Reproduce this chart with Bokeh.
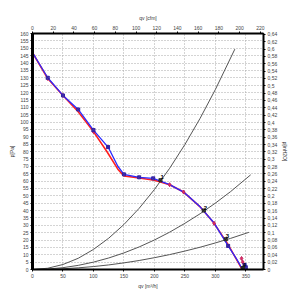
from bokeh.plotting import figure
from bokeh.models import (Range1d, LinearAxis, FixedTicker, CustomJSTickFormatter, Label)
from bokeh.embed import file_html
from bokeh.resources import INLINE

# ---- data (m3/h, Pa) ----
blue_q = [0, 25, 50, 75, 100, 124, 140, 150, 175, 198, 225, 248, 275, 298, 321, 335, 344]
blue_p = [147, 130, 118, 108.5, 94.5, 83, 70, 64.5, 62.5, 61.8, 57.5, 52.5, 42.5, 31.5, 16, 7, 0.5]
blue_mq = [25, 50, 75, 100, 124, 150, 175, 198, 321, 348, 350]
blue_mp = [130, 118, 108.5, 94.5, 83, 64.5, 62.5, 61.8, 16, 3, 1.5]

red_q = [0, 25, 50, 75, 100, 122, 140, 150, 175, 200, 225, 248, 275, 298, 320, 340, 343]
red_p = [147, 129.5, 118, 107, 93.5, 80, 68, 63.5, 62, 60.5, 57.5, 52.5, 42.5, 31.3, 17.5, 3, 0.5]
red_mq = [25, 50, 100, 225, 248, 298, 343, 345]
red_mp = [129.5, 118, 93.5, 57.5, 52.5, 31.3, 7.5, 5]

sys1_q = [0, 25, 50, 75, 100, 125, 150, 175, 200, 225, 250, 275, 300, 332]
sys1_p = [0, 0.85, 3.4, 7.6, 13.6, 21.2, 30.5, 41.5, 54.2, 68.6, 84.7, 102.5, 122, 149.4]
sys2_q = [0, 25, 50, 75, 100, 125, 150, 175, 200, 225, 250, 275, 300, 325, 358]
sys2_p = [0, 0.31, 1.25, 2.8, 5, 7.8, 11.25, 15.3, 20, 25.3, 31.3, 37.8, 45, 52.8, 64.2]
sys3_q = [0, 25, 50, 75, 100, 125, 150, 175, 200, 225, 250, 275, 300, 325, 355]
sys3_p = [0, 0.13, 0.5, 1.13, 2, 3.1, 4.5, 6.1, 8, 10.1, 12.5, 15.1, 18, 21.1, 25.2]

op_q = [210, 281, 317, 345]
op_p = [60.5, 40, 20.5, 1]
op_labels = ["1", "2", "3", "4"]

m3h_ticks = [0, 50, 100, 150, 200, 250, 300, 350]
cfm_ticks = [0, 20, 40, 60, 80, 100, 120, 140, 160, 180, 200, 220]
pa_ticks = [0, 5, 10, 15, 20, 25, 30, 35, 40, 45, 50, 55, 60, 65, 70, 75, 80,
            85, 90, 95, 100, 105, 110, 115, 120, 125, 130, 135, 140, 145, 150, 155, 160]
inh2o_ticks = [0, 0.02, 0.04, 0.06, 0.08, 0.1, 0.12, 0.14, 0.16, 0.18, 0.2, 0.22,
               0.24, 0.26, 0.28, 0.3, 0.32, 0.34, 0.36, 0.38, 0.4, 0.42, 0.44, 0.46,
               0.48, 0.5, 0.52, 0.54, 0.56, 0.58, 0.6, 0.62, 0.64]

X_MAX = 379
Y_MAX = 160

p = figure(width=300, height=300, output_backend="svg", toolbar_location=None,
           x_range=Range1d(0, X_MAX), y_range=Range1d(0, Y_MAX),
           min_border_left=32, min_border_right=37, min_border_top=33, min_border_bottom=31,
           x_axis_location=None, y_axis_location=None)
p.extra_x_ranges = {"cfm": Range1d(0, X_MAX / 1.699)}
p.extra_y_ranges = {"inh2o": Range1d(0, Y_MAX / 249.089)}
p.background_fill_color = "white"
p.border_fill_color = "white"
p.outline_line_color = "black"
p.outline_line_width = 1

fmt = CustomJSTickFormatter(code="return (Math.round(tick*100)/100).toString().replace('.', ',');")

def style(ax, label):
    ax.axis_label = label
    ax.axis_label_text_font_size = "5px"
    ax.axis_label_text_font_style = "normal"
    ax.axis_label_text_color = "#333333"
    ax.axis_label_standoff = 2
    ax.major_label_text_font_size = "5px"
    ax.major_label_text_color = "#444444"
    ax.major_label_standoff = 2
    ax.axis_line_color = "black"
    ax.axis_line_width = 2
    ax.major_tick_line_color = "black"
    ax.major_tick_in = 0
    ax.major_tick_out = 2
    ax.minor_tick_line_color = None
    ax.formatter = fmt

bottom = LinearAxis(ticker=FixedTicker(ticks=m3h_ticks))
style(bottom, "qv [m³/h]")
p.add_layout(bottom, "below")
top = LinearAxis(x_range_name="cfm", ticker=FixedTicker(ticks=cfm_ticks))
style(top, "qv [cfm]")
p.add_layout(top, "above")
left = LinearAxis(ticker=FixedTicker(ticks=pa_ticks))
style(left, "p[Pa]")
left.axis_line_width = 3
p.add_layout(left, "left")
right = LinearAxis(y_range_name="inh2o", ticker=FixedTicker(ticks=inh2o_ticks))
style(right, "p[inH2O]")
p.add_layout(right, "right")

p.xgrid.ticker = FixedTicker(ticks=m3h_ticks)
p.ygrid.ticker = FixedTicker(ticks=pa_ticks)
for g in (p.xgrid, p.ygrid):
    g.grid_line_color = "#a8a8a8"
    g.grid_line_dash = "1 2"
    g.grid_line_width = 1

for q, pr in ((sys1_q, sys1_p), (sys2_q, sys2_p), (sys3_q, sys3_p)):
    p.line(q, pr, line_color="#555555", line_width=1)

p.line(red_q, red_p, line_color="#ff2020", line_width=1.6)
p.line(blue_q, blue_p, line_color="#2a2aff", line_width=1.3)
p.scatter(red_mq, red_mp, marker="diamond", size=4, fill_color="#e03060",
          line_color="#c02060")
p.scatter(blue_mq, blue_mp, marker="square_x", size=3, fill_color="#6a50d0",
          line_color="#3020a0")

p.scatter(op_q, op_p, marker="square_x", size=3, fill_color="#666666", line_color="#222222")
p.text(op_q, op_p, text=op_labels, text_font_size="6px", text_font_style="bold",
       text_color="black", x_offset=0, y_offset=-1, text_baseline="bottom")

p.add_layout(Label(x=399, y=-17, text="Info@p", text_font_size="7px",
                   text_font_style="bold", text_color="#222222", text_baseline="middle"))

open("out.html", "w").write(file_html(p, INLINE))
